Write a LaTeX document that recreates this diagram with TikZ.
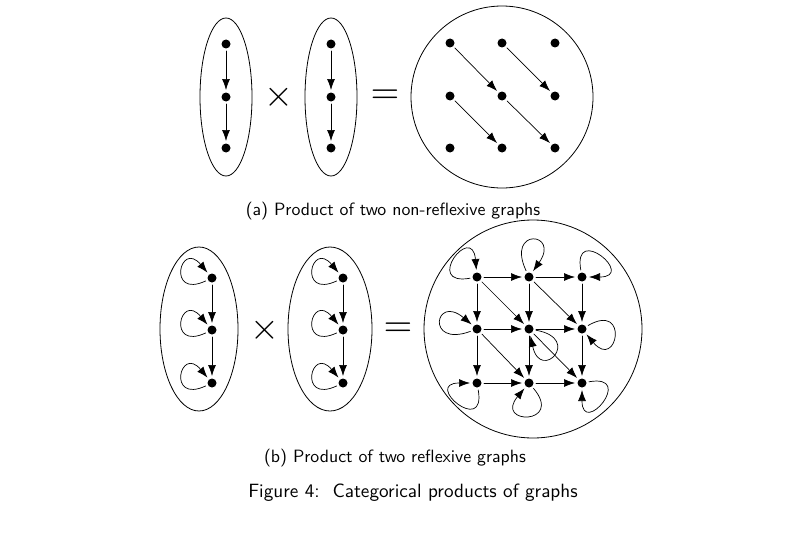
\documentclass[tikz,border=0pt]{standalone}
\usepackage{amsmath}
\usepackage{tikz}
\usetikzlibrary{arrows.meta}

\begin{document}
\begin{tikzpicture}[line cap=round,line join=round,x=1pt,y=1pt,
  vtx/.style={circle,fill=black,inner sep=0pt,minimum size=9pt,outer sep=2.5pt},
  arr/.style={-{Latex[length=11pt,width=8pt]},line width=0.7pt},
  bag/.style={line width=0.8pt},
  op/.style={scale=3.7,transform shape},
  captxt/.style={font=\sffamily,scale=1.78,transform shape},
  figtxt/.style={font=\sffamily,scale=1.92,transform shape}]
\useasboundingbox (0,0) rectangle (811,-543);

% (a) non-reflexive
\draw[bag] (226,-97) ellipse (26pt and 79pt);
\draw[bag] (331,-97) ellipse (26pt and 79pt);
\draw[bag] (502,-97) circle (91pt);
\node[vtx] (a1) at (226,-44) {};
\node[vtx] (a2) at (226,-97) {};
\node[vtx] (a3) at (226,-148) {};
\node[vtx] (b1) at (331,-44) {};
\node[vtx] (b2) at (331,-97) {};
\node[vtx] (b3) at (331,-148) {};
\node[op] (timesA) at (279,-97) {$\times$};
\node[op] (eqA) at (385,-97) {$=$};
\draw[arr] (a1) -- (a2);
\draw[arr] (a2) -- (a3);
\draw[arr] (b1) -- (b2);
\draw[arr] (b2) -- (b3);
\foreach \i/\x in {0/450,1/502,2/555}
  \foreach \j/\y in {0/-43,1/-96,2/-148}
    \node[vtx] (p\i\j) at (\x,\y) {};
\draw[arr] (p00) -- (p11);
\draw[arr] (p10) -- (p21);
\draw[arr] (p01) -- (p12);
\draw[arr] (p11) -- (p22);
\node[captxt] (capA) at (393,-211) {(a) Product of two non-reflexive graphs};

% (b) reflexive
\draw[bag] (199,-329) ellipse (39pt and 82pt);
\draw[bag] (330,-329) ellipse (42pt and 82pt);
\draw[bag] (533,-329) circle (109pt);
\node[vtx] (c1) at (212,-278) {};
\node[vtx] (c2) at (212,-330) {};
\node[vtx] (c3) at (212,-383) {};
\node[vtx] (d1) at (343,-278) {};
\node[vtx] (d2) at (343,-330) {};
\node[vtx] (d3) at (343,-383) {};
\node[op] (timesB) at (265,-330) {$\times$};
\node[op] (eqB) at (398,-330) {$=$};
\draw[arr] (c1) -- (c2);
\draw[arr] (c2) -- (c3);
\draw[arr] (d1) -- (d2);
\draw[arr] (d2) -- (d3);
\foreach \n in {c1,c2,c3,d1,d2,d3}
  \draw[arr] (\n) .. controls +(205:50) and +(130:50) .. (\n);
\foreach \i/\x in {0/477,1/529,2/582}
  \foreach \j/\y in {0/-277,1/-329,2/-383}
    \node[vtx] (q\i\j) at (\x,\y) {};
% horizontal and vertical
\foreach \j in {0,1,2} {
  \draw[arr] (q0\j) -- (q1\j);
  \draw[arr] (q1\j) -- (q2\j);
  \draw[arr] (q\j0) -- (q\j1);
  \draw[arr] (q\j1) -- (q\j2);
}
% diagonals
\draw[arr] (q00) -- (q11);
\draw[arr] (q10) -- (q21);
\draw[arr] (q01) -- (q12);
\draw[arr] (q11) -- (q22);
% loops
\foreach \n/\o/\t in {q00/190/95,q10/115/55,q20/100/0,q01/200/140,q11/-10/-78,
                      q21/30/-50,q02/-80/180,q12/-50/-130,q22/10/-90}
  \draw[arr] (\n) .. controls +(\o:55) and +(\t:55) .. (\n);
\node[captxt] (capB) at (395,-458) {(b) Product of two reflexive graphs};
\node[figtxt] (fig) at (413,-493) {Figure 4:\ \ Categorical products of graphs};
\end{tikzpicture}
\end{document}
